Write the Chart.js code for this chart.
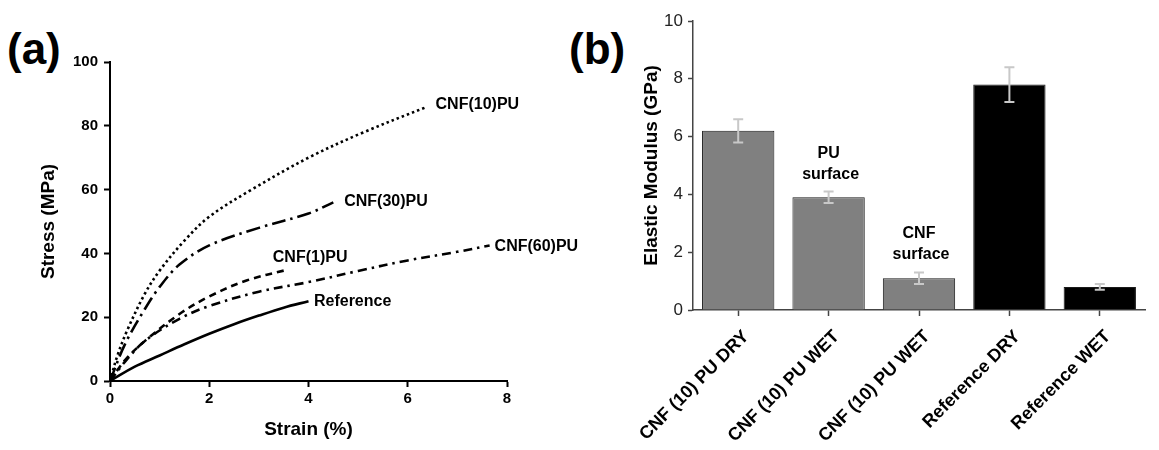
<!DOCTYPE html>
<html>
<head>
<meta charset="utf-8">
<script src="https://cdn.jsdelivr.net/npm/chart.js@4/dist/chart.umd.min.js"></script>
<style>
  body { margin: 0; background: #fff; overflow: hidden; }
  #wrap { position: relative; width: 1159px; height: 450px; overflow: hidden; }
  canvas { position: absolute; display: block; }
  .panel { position: absolute; font: bold 44px 'Liberation Sans', Arial, sans-serif; line-height: 1; color: #000; }
</style>
</head>
<body>
<div id="wrap">
  <div class="panel" style="left:7px; top:27px">(a)</div>
  <div class="panel" style="left:569px; top:27px">(b)</div>
  <canvas id="stressChart" width="580" height="450" style="left:0; top:0"></canvas>
  <canvas id="modulusChart" width="579" height="450" style="left:580px; top:0"></canvas>
</div>
<script>
// (a) stress-strain curves, strain in %, stress in MPa
const strainCNF10 = [0, 0.15, 0.35, 0.7, 1.0, 1.5, 2.0, 2.8, 4.0, 5.1, 6.38];
const stressCNF10 = [0, 8, 16, 27.3, 34.6, 44, 51.5, 59.5, 70, 77.9, 85.9];
const strainCNF30 = [0, 0.3, 0.7, 1.0, 1.4, 2.0, 3.0, 4.0, 4.5];
const stressCNF30 = [0, 11.5, 22.5, 29.5, 36.5, 42.5, 48, 52.5, 56];
const strainCNF1 = [0, 0.3, 0.7, 1.4, 2.0, 2.75, 3.6];
const stressCNF1 = [0, 6.5, 12.5, 21, 26.5, 31.5, 35];
const strainCNF60 = [0, 0.3, 0.7, 1.4, 2.0, 3.0, 4.0, 5.0, 6.0, 7.0, 7.65];
const stressCNF60 = [0, 6, 12.5, 19.5, 23.5, 28, 31, 34.5, 37.8, 40.5, 42.5];
const strainRef = [0, 0.5, 1.0, 1.5, 2.0, 2.5, 3.0, 3.5, 4.0];
const stressRef = [0, 4.5, 8, 11.5, 14.8, 17.8, 20.5, 23, 25];

const curveNames = ['CNF(10)PU', 'CNF(30)PU', 'CNF(60)PU', 'CNF(1)PU', 'Reference'];
const curveLabelX = [6.56, 4.72, 7.75, 3.28, 4.11];
const curveLabelY = [86.8, 56.1, 42, 38.6, 24.8];

// (b) elastic modulus, GPa
const modulusCategories = ['CNF (10) PU DRY', 'CNF (10) PU WET', 'CNF (10) PU WET', 'Reference DRY', 'Reference WET'];
const modulusValues = [6.2, 3.9, 1.1, 7.8, 0.8];
const modulusErrors = [0.4, 0.2, 0.2, 0.6, 0.1];
const noteCategory = [1, 2];
const noteValue = [5.4, 2.63];
const noteLines = [['PU', 'surface'], ['CNF', 'surface']];

Chart.defaults.font.family = "'Liberation Sans', Arial, sans-serif";
Chart.defaults.color = '#000';
Chart.defaults.animation = false;

function pts(xs, ys) {
  return xs.map((x, i) => ({x: x, y: ys[i]}));
}

const curveLabelPlugin = {
  id: 'curveLabels',
  afterDatasetsDraw(chart) {
    const ctx = chart.ctx, xs = chart.scales.x, ys = chart.scales.y;
    ctx.save();
    ctx.font = "bold 16px 'Liberation Sans', Arial, sans-serif";
    ctx.fillStyle = '#000';
    ctx.textAlign = 'left';
    ctx.textBaseline = 'middle';
    curveNames.forEach((name, i) => {
      ctx.fillText(name, xs.getPixelForValue(curveLabelX[i]), ys.getPixelForValue(curveLabelY[i]));
    });
    ctx.restore();
  }
};

function curve(label, xs, ys, dash) {
  return {
    label: label,
    data: pts(xs, ys),
    borderColor: '#000',
    borderWidth: 2.6,
    borderDash: dash,
    pointRadius: 0,
    tension: 0.35,
    fill: false
  };
}

new Chart(document.getElementById('stressChart').getContext('2d'), {
  type: 'line',
  data: {
    datasets: [
      curve('CNF(10)PU', strainCNF10, stressCNF10, [2.5, 3]),
      curve('CNF(30)PU', strainCNF30, stressCNF30, [14, 5, 2.5, 5]),
      curve('CNF(60)PU', strainCNF60, stressCNF60, [9, 5, 2.5, 5]),
      curve('CNF(1)PU', strainCNF1, stressCNF1, [7, 5]),
      curve('Reference', strainRef, stressRef, [])
    ]
  },
  options: {
    responsive: false,
    layout: { padding: { left: 0, right: 73, top: 62, bottom: 0 } },
    plugins: { legend: { display: false }, tooltip: { enabled: false } },
    scales: {
      x: {
        type: 'linear', min: 0, max: 8,
        ticks: { stepSize: 2, font: { size: 15, weight: 'bold' }, padding: 3, color: '#000' },
        grid: { drawOnChartArea: false, tickLength: 6, tickColor: '#000', tickWidth: 2 },
        border: { color: '#000', width: 2 },
        title: { display: true, text: 'Strain (%)', font: { size: 19, weight: 'bold' }, padding: { top: 0, bottom: 9 }, color: '#000' },
        afterFit(scale) { scale.height = 69; }
      },
      y: {
        min: 0, max: 100,
        ticks: { stepSize: 20, font: { size: 15, weight: 'bold' }, padding: 6, color: '#000' },
        grid: { drawOnChartArea: false, tickLength: 6, tickColor: '#000', tickWidth: 2 },
        border: { color: '#000', width: 2 },
        title: { display: true, text: 'Stress (MPa)', font: { size: 19, weight: 'bold' }, padding: { top: 37, bottom: 0 }, color: '#000' },
        afterFit(scale) { scale.width = 110; }
      }
    }
  },
  plugins: [curveLabelPlugin]
});

const errorBarPlugin = {
  id: 'errorBars',
  afterDatasetsDraw(chart) {
    const ctx = chart.ctx, xs = chart.scales.x, ys = chart.scales.y;
    ctx.save();
    ctx.strokeStyle = '#c8c8c8';
    ctx.lineWidth = 2;
    modulusValues.forEach((v, i) => {
      const x = xs.getPixelForValue(i);
      const top = ys.getPixelForValue(v + modulusErrors[i]);
      const bot = ys.getPixelForValue(v - modulusErrors[i]);
      ctx.beginPath();
      ctx.moveTo(x, top); ctx.lineTo(x, bot);
      ctx.moveTo(x - 5, top); ctx.lineTo(x + 5, top);
      ctx.moveTo(x - 5, bot); ctx.lineTo(x + 5, bot);
      ctx.stroke();
    });
    // surface notes above the wet bars
    ctx.font = "bold 16px 'Liberation Sans', Arial, sans-serif";
    ctx.fillStyle = '#000';
    ctx.textAlign = 'center';
    ctx.textBaseline = 'middle';
    noteLines.forEach((lines, k) => {
      const x = xs.getPixelForValue(noteCategory[k]);
      const y = ys.getPixelForValue(noteValue[k]);
      lines.forEach((t, j) => ctx.fillText(t, x + 2 * j, y + 21 * j));
    });
    ctx.restore();
  }
};

new Chart(document.getElementById('modulusChart').getContext('2d'), {
  type: 'bar',
  data: {
    labels: modulusCategories,
    datasets: [{
      data: modulusValues,
      backgroundColor: ['#808080', '#808080', '#808080', '#000000', '#000000'],
      borderColor: '#1a1a1a',
      borderWidth: 1,
      barPercentage: 0.8,
      categoryPercentage: 1
    }]
  },
  options: {
    responsive: false,
    layout: { padding: { left: 0, right: 14, top: 21, bottom: 0 } },
    plugins: { legend: { display: false }, tooltip: { enabled: false } },
    scales: {
      x: {
        ticks: { font: { size: 18, weight: 'bold' }, color: '#000', maxRotation: 45, minRotation: 45, autoSkip: false, padding: 10, labelOffset: 8 },
        grid: { offset: false, drawOnChartArea: false, tickLength: 6, tickColor: '#444', tickWidth: 1.5 },
        border: { color: '#444', width: 1.5 },
        afterFit(scale) { scale.height = 140; }
      },
      y: {
        min: 0, max: 10,
        ticks: { stepSize: 2, font: { size: 17 }, padding: 5, color: '#222' },
        grid: { drawOnChartArea: false, tickLength: 5, tickColor: '#444', tickWidth: 1.5 },
        border: { color: '#444', width: 1.5 },
        title: { display: true, text: 'Elastic Modulus (GPa)', font: { size: 19, weight: 'bold' }, padding: { top: 60, bottom: 0 }, color: '#000' },
        afterFit(scale) { scale.width = 113; }
      }
    }
  },
  plugins: [errorBarPlugin]
});
</script>
</body>
</html>
